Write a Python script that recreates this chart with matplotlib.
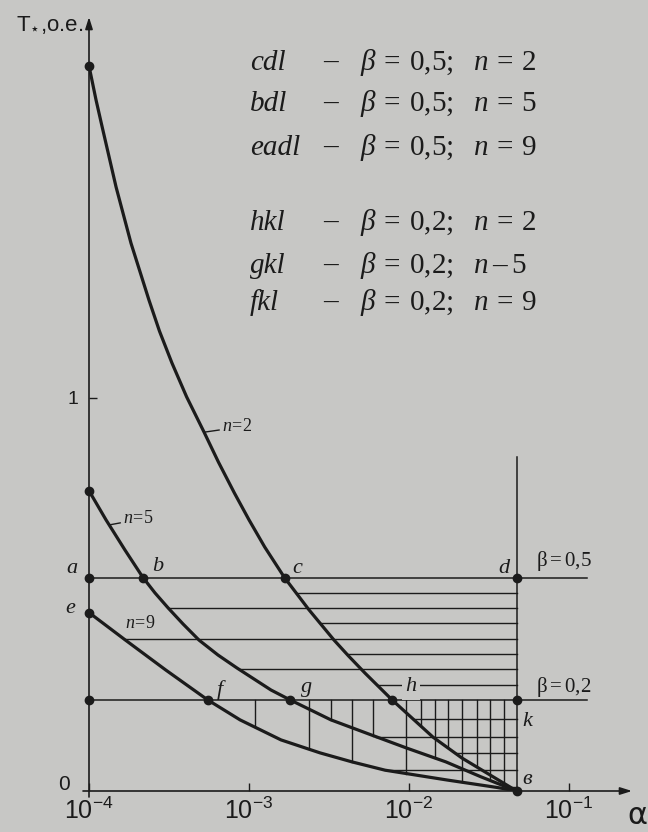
import numpy as np
import matplotlib
matplotlib.use('Agg')
import matplotlib.pyplot as plt
from matplotlib.ticker import FixedLocator, NullLocator

BG = '#c7c7c5'
INK = '#1b1b1b'

plt.rcParams['font.family'] = ['Liberation Sans', 'DejaVu Sans']
plt.rcParams['mathtext.fontset'] = 'custom'
plt.rcParams['mathtext.rm'] = 'Liberation Serif'
plt.rcParams['mathtext.it'] = 'Liberation Serif:italic'
plt.rcParams['mathtext.bf'] = 'Liberation Serif:bold'

# curves T*(alpha)
alpha_n2 = [1.00e-4, 1.107e-4, 1.205e-4, 1.476e-4, 1.830e-4, 2.371e-4, 2.758e-4,
            3.30e-4, 4.074e-4, 5.24e-4, 6.44e-4, 8.11e-4, 1.00e-3, 1.253e-3,
            1.667e-3, 2.371e-3, 3.40e-3, 4.18e-3, 5.31e-3, 7.83e-3, 1.413e-2,
            2.14e-2, 4.71e-2]
t_n2 = [1.845, 1.758, 1.692, 1.537, 1.394, 1.249, 1.170,
        1.089, 1.003, 0.913, 0.837, 0.758, 0.690, 0.621,
        0.543, 0.461, 0.384, 0.344, 0.300, 0.232, 0.137,
        0.084, 0.0]

alpha_n5 = [1.00e-4, 1.277e-4, 1.679e-4, 2.176e-4, 2.585e-4, 3.12e-4, 3.87e-4,
            4.87e-4, 6.40e-4, 8.41e-4, 1.372e-3, 1.803e-3, 3.25e-3, 5.87e-3,
            9.71e-3, 1.702e-2, 2.82e-2, 4.71e-2]
t_n5 = [0.764, 0.690, 0.613, 0.543, 0.504, 0.466, 0.425,
        0.384, 0.346, 0.313, 0.257, 0.232, 0.181, 0.142,
        0.109, 0.074, 0.036, 0.0]

alpha_n9 = [1.00e-4, 1.689e-4, 3.015e-4, 5.51e-4, 8.79e-4, 1.585e-3, 2.78e-3, 4.41e-3,
            7.08e-3, 1.728e-2, 3.55e-2, 4.71e-2]
t_n9 = [0.454, 0.384, 0.308, 0.232, 0.181, 0.130, 0.097, 0.074,
        0.053, 0.028, 0.009, 0.0]

ALPHA_K = 4.71e-2      # d, k, в
ALPHA_LINE_END = 0.1296
T_B05 = 0.543          # line a-b-c-d
T_B02 = 0.232          # line f-g-h-k
T_E = 0.454
T_D_TOP = 0.850

# hatching: horizontal levels and the curve each one starts from
hatch_t = [0.503, 0.465, 0.427, 0.387, 0.348, 0.310, 0.270,
           0.183, 0.138, 0.097, 0.053, 0.011]
hatch_t_from = ['n2', 'n5', 'n2', 'n9', 'n2', 'n5', 'n2',
                'n2', 'n5', 'n2', 'n9', 'n2']
# vertical hatch positions and the curve each one runs down to
hatch_a = [1.09e-3, 2.37e-3, 3.25e-3, 4.40e-3, 5.96e-3, 9.58e-3, 1.18e-2,
           1.45e-2, 1.75e-2, 2.14e-2, 2.65e-2, 3.21e-2, 3.92e-2]
hatch_a_to = ['n9', 'n9', 'n5', 'n9', 'n5', 'n9', 'n2',
              'n5', 'n2', 'n9', 'n2', 'n5', 'n2']

legend_names = ['cdl', 'bdl', 'eadl', 'hkl', 'gkl', 'fkl']
legend_beta = ['0{,}5', '0{,}5', '0{,}5', '0{,}2', '0{,}2', '0{,}2']
legend_sign = ['=', '=', '=', '=', '–', '=']
legend_n = ['2', '5', '9', '2', '5', '9']

curves = {'n2': (alpha_n2, t_n2), 'n5': (alpha_n5, t_n5), 'n9': (alpha_n9, t_n9)}

W, H = 648, 832
fig = plt.figure(figsize=(W / 100, H / 100), dpi=100, facecolor=BG)
ax = fig.add_axes([89 / W, 41 / H, 543 / W, 774 / H])
ax.set_facecolor('none')
ax.set_xscale('log')
ax.set_xlim(1e-4, 10 ** (-4 + 543 / 160))
ax.set_ylim(0, 774 / 393)
for s in ax.spines.values():
    s.set_visible(False)


def alpha_at(key, t):
    a, tt = curves[key]
    return 10 ** np.interp(t, tt[::-1], np.log10(a)[::-1])


def t_at(key, alpha):
    a, tt = curves[key]
    return np.interp(np.log10(alpha), np.log10(a), tt)


# hatching
for t, key in zip(hatch_t, hatch_t_from):
    ax.plot([alpha_at(key, t), ALPHA_K], [t, t], color=INK, lw=1.0, zorder=2)
for a, key in zip(hatch_a, hatch_a_to):
    ax.plot([a, a], [T_B02, t_at(key, a)], color=INK, lw=1.0, zorder=2)

# level lines and the d-k-в line
for t in (T_B05, T_B02):
    ax.plot([1e-4, ALPHA_LINE_END], [t, t], color=INK, lw=1.1, zorder=3, clip_on=False)
ax.plot([ALPHA_K, ALPHA_K], [0, T_D_TOP], color=INK, lw=1.1, zorder=3)

# curves
for a, t in curves.values():
    ax.plot(a, t, color=INK, lw=2.3, solid_capstyle='round',
            solid_joinstyle='round', zorder=4)

# dots
dots_a = [1e-4, 1e-4, 1e-4, 1e-4, 1e-4,
          alpha_at('n5', T_B05), alpha_at('n2', T_B05), ALPHA_K,
          alpha_at('n9', T_B02), alpha_at('n5', T_B02), alpha_at('n2', T_B02),
          ALPHA_K, ALPHA_K]
dots_t = [t_n2[0], t_n5[0], T_B05, T_E, T_B02,
          T_B05, T_B05, T_B05, T_B02, T_B02, T_B02, T_B02, 0]
ax.plot(dots_a, dots_t, 'o', color=INK, ms=6, zorder=5, clip_on=False)

# axes with arrows
arrow = dict(arrowstyle='-|>,head_length=0.7,head_width=0.22', lw=1.2,
             color=INK, shrinkA=0, shrinkB=0)
ax.annotate('', xy=(1, 0), xytext=(-6 / 543, 0), xycoords='axes fraction',
            textcoords='axes fraction', arrowprops=arrow)
ax.annotate('', xy=(0, 1), xytext=(0, -6 / 774), xycoords='axes fraction',
            textcoords='axes fraction', arrowprops=arrow)

ax.xaxis.set_major_locator(FixedLocator([1e-4, 1e-3, 1e-2, 1e-1]))
ax.xaxis.set_minor_locator(NullLocator())
ax.set_xticklabels([r'$\mathregular{10^{-4}}$', r'$\mathregular{10^{-3}}$',
                    r'$\mathregular{10^{-2}}$', r'$\mathregular{10^{-1}}$'])
ax.tick_params(axis='x', direction='in', length=6, width=1, pad=5,
               labelsize=18, colors=INK)
ax.set_yticks([1])
ax.set_yticklabels(['1'])
ax.yaxis.set_minor_locator(NullLocator())
ax.tick_params(axis='y', direction='in', length=6, width=1, pad=8,
               labelsize=14, colors=INK)
ax.annotate('0', xy=(1e-4, 0), xytext=(-19, 6), textcoords='offset pixels',
            ha='right', va='center', fontsize=15, color=INK)

fig.text(16 / W, 1 - 31 / H, r'T$_{\star}$,o.e.', fontsize=16, color=INK,
         math_fontfamily='dejavusans', va='baseline')
fig.text(637 / W, 1 - 816 / H, 'α', fontsize=22, color=INK, ha='center',
         va='center', family='DejaVu Sans')

# point letters
serif_it = dict(family='Liberation Serif', style='italic', fontsize=16, color=INK,
                ha='center', va='center', textcoords='offset pixels')
letters = [('a', 1e-4, T_B05, -17, 9), ('b', alpha_at('n5', T_B05), T_B05, 15, 11),
           ('c', alpha_at('n2', T_B05), T_B05, 13, 9), ('d', ALPHA_K, T_B05, -13, 9),
           ('e', 1e-4, T_E, -19, 4), ('f', alpha_at('n9', T_B02), T_B02, 12, 10),
           ('g', alpha_at('n5', T_B02), T_B02, 17, 12), ('k', ALPHA_K, T_B02, 11, -22),
           ('в', ALPHA_K, 0, 10, 11)]
for s, a, t, dx, dy in letters:
    ax.annotate(s, xy=(a, t), xytext=(dx, dy), zorder=6, **serif_it)
ax.annotate('h', xy=(alpha_at('n2', T_B02), T_B02), xytext=(19, 13), zorder=6,
            bbox=dict(boxstyle='square,pad=0.15', fc=BG, ec='none'), **serif_it)

ax.annotate(r'$\mathregular{\beta=0{,}5}$', xy=(ALPHA_K, T_B05), xytext=(19, 17),
            textcoords='offset pixels', ha='left', va='center', fontsize=15,
            family='Liberation Serif', color=INK)
ax.annotate(r'$\mathregular{\beta=0{,}2}$', xy=(ALPHA_K, T_B02), xytext=(19, 13),
            textcoords='offset pixels', ha='left', va='center', fontsize=15,
            family='Liberation Serif', color=INK)

# curve labels
lead = dict(arrowstyle='-', lw=1.0, color=INK, shrinkA=0, shrinkB=0, relpos=(0, 0.3))
ax.annotate(r'$n\!=\!2$', xy=(alpha_n2[9], t_n2[9]), xytext=(18, 6),
            textcoords='offset pixels', ha='left', va='center', fontsize=13,
            color=INK, arrowprops=lead)
ax.annotate(r'$n\!=\!5$', xy=(alpha_at('n5', 0.677), 0.677), xytext=(14, 6),
            textcoords='offset pixels', ha='left', va='center', fontsize=13,
            color=INK, arrowprops=lead)
ax.annotate(r'$n\!=\!9$', xy=(1e-4, T_E), xytext=(36, -11),
            textcoords='offset pixels', ha='left', va='center', fontsize=13,
            color=INK)

# legend block
rows_y = [62, 103, 147, 222, 265, 302]
for name, b, sg, nv, y in zip(legend_names, legend_beta, legend_sign, legend_n, rows_y):
    yb = 1 - (y + 8) / H
    fig.text(250 / W, yb, name, family='Liberation Serif', style='italic',
             fontsize=21, color=INK, va='baseline')
    fig.text(323 / W, yb, '–', family='Liberation Serif', fontsize=21,
             color=INK, va='baseline')
    fig.text(360 / W, yb, r'$\beta\:=\:' + b + r';\;\;\, n\:' + sg + r'\:' + nv + '$',
             fontsize=21, color=INK, va='baseline')

fig.savefig('out.png', dpi=100, facecolor=BG)
